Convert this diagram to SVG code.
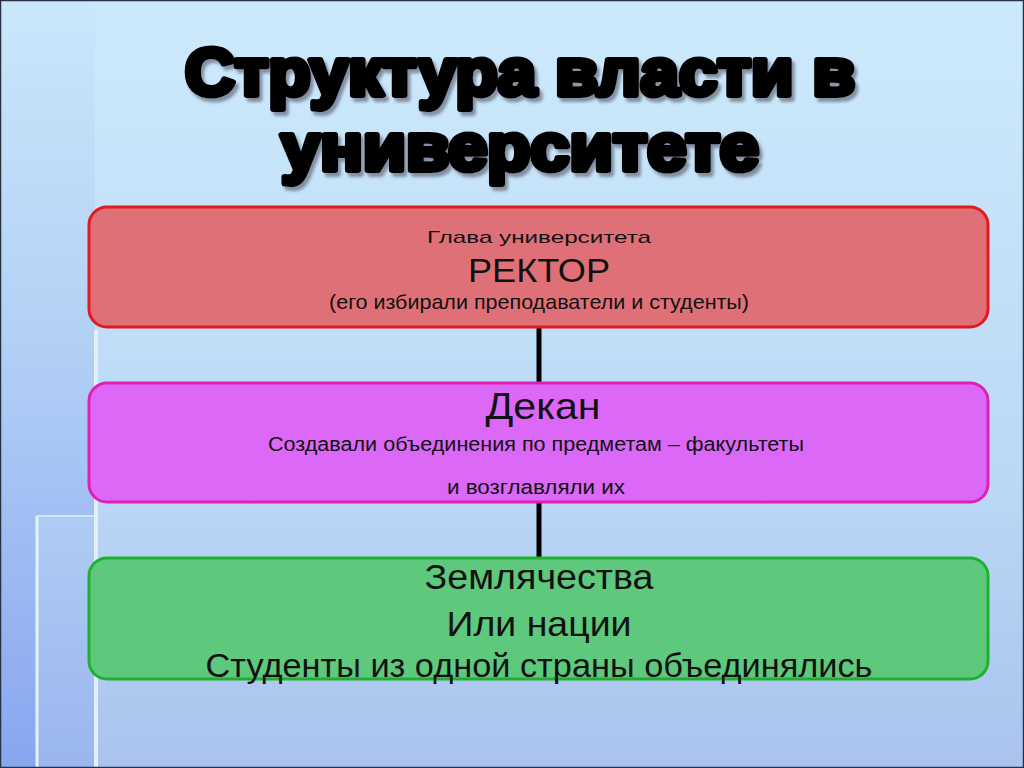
<svg xmlns="http://www.w3.org/2000/svg" width="1024" height="768" viewBox="0 0 1024 768">
<defs>
<linearGradient id="bg" x1="0" y1="0" x2="0" y2="1">
<stop offset="0" stop-color="#cdeafc"/>
<stop offset="0.5" stop-color="#bedcf7"/>
<stop offset="1" stop-color="#b0caef"/>
</linearGradient>
<linearGradient id="band" x1="0" y1="0" x2="0" y2="1">
<stop offset="0" stop-color="#cae7fb"/>
<stop offset="0.45" stop-color="#b2d0f5"/>
<stop offset="1" stop-color="#88a6f0"/>
</linearGradient>
<linearGradient id="low" x1="0" y1="0" x2="0" y2="1">
<stop offset="0" stop-color="#b8d4f4"/>
<stop offset="1" stop-color="#a6c0ee"/>
</linearGradient>
<filter id="sh" x="-5%" y="-30%" width="110%" height="160%">
<feDropShadow dx="3" dy="4" stdDeviation="1.5" flood-color="#556" flood-opacity="0.6"/>
</filter>
</defs>
<style>
.box{stroke-width:3}
.t{font-family:"Liberation Sans",Arial,sans-serif;fill:#111;text-anchor:middle}
.title{font-family:"Liberation Sans",Arial,sans-serif;font-weight:bold;text-anchor:middle;font-size:66px;fill:#000;stroke:#000;stroke-width:6;stroke-linejoin:round;paint-order:stroke}
.conn{stroke:#000;stroke-width:5;fill:none}
</style>
<rect x="0" y="0" width="1024" height="768" fill="url(#bg)"/>
<rect x="0" y="0" width="95" height="768" fill="url(#band)"/>
<rect x="37" y="516" width="987" height="252" fill="url(#low)" opacity="0.6"/>
<line x1="37" y1="516" x2="37" y2="768" stroke="#e4f2fc" stroke-width="3"/>
<line x1="37" y1="516" x2="95" y2="516" stroke="#d2e6f8" stroke-width="2"/>
<line x1="96" y1="330" x2="96" y2="768" stroke="#e2f0fb" stroke-width="4"/>
<rect x="0.5" y="0.5" width="1023" height="767" fill="none" stroke="#2a3040" stroke-width="1.5"/>

<g id="title" filter="url(#sh)">
<text class="title" x="520" y="95" textLength="670" lengthAdjust="spacingAndGlyphs">Структура власти в</text>
<text class="title" x="520" y="170" textLength="478" lengthAdjust="spacingAndGlyphs">университете</text>
</g>

<g id="connectors">
<line class="conn" x1="539" y1="327" x2="539" y2="383"/>
<line class="conn" x1="539" y1="502" x2="539" y2="558"/>
</g>

<g id="rector">
<rect class="box" x="89" y="207" width="899" height="120" rx="18" fill="#e07078" stroke="#e01a1e"/>
<text class="t" x="539" y="243" font-size="17" textLength="224" lengthAdjust="spacingAndGlyphs">Глава университета</text>
<text class="t" x="539" y="282" font-size="34" textLength="142" lengthAdjust="spacingAndGlyphs">РЕКТОР</text>
<text class="t" x="539" y="309" font-size="21" textLength="420" lengthAdjust="spacingAndGlyphs">(его избирали преподаватели и студенты)</text>
</g>

<g id="dean">
<rect class="box" x="89" y="383" width="899" height="119" rx="18" fill="#dc68f8" stroke="#e020b4"/>
<text class="t" x="543" y="419" font-size="36" textLength="115" lengthAdjust="spacingAndGlyphs">Декан</text>
<text class="t" x="536" y="451" font-size="20" textLength="536" lengthAdjust="spacingAndGlyphs">Создавали объединения по предметам – факультеты</text>
<text class="t" x="536" y="494" font-size="20" textLength="178" lengthAdjust="spacingAndGlyphs">и возглавляли их</text>
</g>

<g id="zemlyachestva">
<rect class="box" x="89" y="558" width="899" height="121" rx="18" fill="#5ec87c" stroke="#20b030"/>
<text class="t" x="539" y="589" font-size="35" textLength="229" lengthAdjust="spacingAndGlyphs">Землячества</text>
<text class="t" x="539" y="636" font-size="35" textLength="185" lengthAdjust="spacingAndGlyphs">Или нации</text>
<text class="t" x="539" y="677" font-size="33" textLength="667" lengthAdjust="spacingAndGlyphs">Студенты из одной страны объединялись</text>
</g>
</svg>
